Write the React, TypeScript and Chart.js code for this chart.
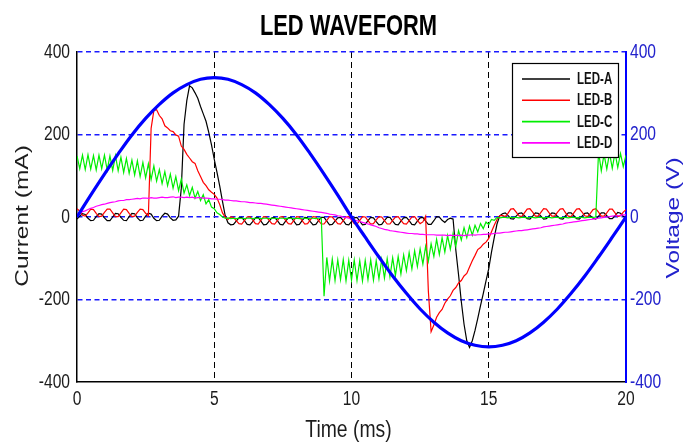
import React, { useEffect, useRef } from 'react';
import { Chart, registerables } from 'chart.js';

Chart.register(...registerables);

const TITLE = 'LED WAVEFORM';
const X_TITLE = 'Time (ms)';
const Y_LEFT_TITLE = 'Current (mA)';
const Y_RIGHT_TITLE = 'Voltage (V)';
const X_TICKS = [0, 5, 10, 15, 20];
const Y_TICKS = [-400, -200, 0, 200, 400];
const SERIES_LABELS = ['LED-A', 'LED-B', 'LED-C', 'LED-D'];
const SERIES_COLORS = ['#000000', '#ff0000', '#00ee00', '#ff00ff'];
const VOLTAGE_COLOR = '#0000ff';

// sampled every 0.1 ms, 0 .. 20 ms
const SAMPLE_STEP_MS = 0.1;
// sampled every 0.5 ms, 0 .. 20 ms
const VOLTAGE_STEP_MS = 0.5;

const LED_A = [
  -5, 2, 8, 6, -3, -9, -8, 1, 8, 7,
  -2, -9, -9, 0, 9, 8, -1, -8, -9, 1,
  9, 8, -2, -9, -8, 2, 9, 7, -3, -9,
  -8, 2, 9, 7, -2, -8, -7, 2, 70, 225,
  282, 318, 313, 301, 288, 268, 250, 232, 205, 175,
  140, 108, 75, 38, 3, -14, -19, -18, -10, -2,
  -1, -9, -18, -19, -11, -2, -1, -10, -19, -18,
  -10, -2, -1, -9, -18, -19, -10, -2, -1, -10,
  -19, -18, -9, -1, -2, -11, -19, -18, -9, -1,
  -1, -10, -19, -18, -10, -2, -1, -9, -18, -19,
  -11, -2, -1, -10, -19, -18, -9, -1, -2, -11,
  -19, -18, -9, -1, -1, -10, -18, -19, -10, -2,
  -1, -9, -18, -19, -10, -2, -1, -10, -18, -18,
  -9, 1, 0, -8, -13, -6, -3, -5, -80, -140,
  -205, -260, -300, -316, -300, -275, -246, -215, -186, -155,
  -125, -85, -50, -17, 3, 8, 10, 4, -4, -5,
  2, 9, 10, 3, -4, -5, 2, 10, 9, 2,
  -5, -4, 3, 10, 9, 2, -4, -5, 3, 10,
  10, 3, -4, -5, 2, 9, 10, 3, -3, -5,
  2, 10, 10, 3, -4, -4, 3, 11, 9, 2,
  -2,
];

const LED_B = [
  20, 14, 4, 2, 10, 19, 18, 9, 1, 2,
  11, 19, 19, 10, 1, 1, 10, 19, 18, 9,
  1, 2, 11, 19, 18, 9, 3, 215, 258, 260,
  246, 238, 221, 216, 209, 207, 199, 196, 172, 164,
  152, 143, 134, 130, 112, 98, 84, 76, 66, 60,
  55, 46, 30, 10, 0, -6, 0, -1, -9, -16,
  -17, -9, 0, 1, -7, -16, -17, -8, 1, 0,
  -8, -16, -17, -9, 0, 1, -8, -16, -17, -8,
  1, 0, -9, -17, -16, -7, 1, 0, -9, -17,
  -17, -8, 1, 0, -8, -16, -17, -9, 0, 1,
  -7, -16, -17, -8, 1, 0, -9, -17, -16, -7,
  1, 0, -9, -17, -17, -8, 0, 1, -8, -16,
  -17, -9, 0, 1, -8, -16, -12, 2, -180, -278,
  -262, -243, -232, -224, -209, -199, -191, -178, -171, -160,
  -154, -143, -137, -121, -106, -93, -79, -74, -66, -61,
  -52, -36, -20, -6, 3, 4, 1, 9, 19, 20,
  12, 3, 1, 10, 19, 20, 12, 2, 2, 11,
  20, 19, 10, 2, 2, 11, 19, 20, 10, 2,
  1, 10, 19, 20, 12, 3, 1, 9, 18, 20,
  12, 2, 2, 10, 19, 19, 10, 1, 3, 12,
  18,
];

const LED_C = [
  148, 117, 150, 115, 151, 116, 149, 114, 150, 117,
  150, 114, 148, 113, 149, 112, 145, 108, 142, 106,
  138, 102, 136, 98, 132, 95, 129, 91, 124, 87,
  115, 81, 110, 76, 104, 70, 98, 64, 92, 58,
  78, 52, 72, 46, 62, 40, 54, 32, 42, 24,
  20, 10, 6, 0, -3, -2, -4, -3, -4, -3,
  -3, -4, -3, -3, -4, -3, -3, -4, -3, -3,
  -4, -3, -3, -4, -3, -3, -4, -3, -3, -4,
  -3, -4, -3, -3, -4, -3, -3, -4, -3, -3,
  -192, -98, -155, -102, -154, -104, -152, -103, -155, -105,
  -153, -104, -154, -106, -155, -105, -152, -104, -153, -106,
  -150, -103, -148, -101, -145, -99, -142, -96, -138, -92,
  -130, -86, -126, -82, -120, -77, -114, -71, -107, -65,
  -96, -54, -91, -50, -85, -45, -78, -40, -71, -33,
  -56, -26, -50, -22, -44, -20, -36, -16, -28, -12,
  -18, -6, -8, -1, -2, -1, -1, -2, -1, -1,
  -1, -2, -1, -1, -2, -1, -1, -2, -1, -1,
  -2, -1, -1, -2, -1, -1, -2, -1, -1, -2,
  -1, -1, -2, -1, -1, -2, -1, -1, -1, 0,
  158, 112, 152, 116, 155, 118, 156, 120, 154, 122,
  150,
];

const LED_D = [
  6, 9, 13, 15, 18, 21, 23, 26, 28, 30,
  31, 33, 35, 36, 37, 39, 40, 40, 42, 42,
  43, 44, 45, 44, 46, 46, 45, 47, 46, 46,
  47, 48, 47, 47, 48, 49, 47, 48, 48, 47,
  48, 47, 48, 46, 47, 47, 46, 46, 45, 44,
  44, 43, 43, 42, 41, 41, 40, 39, 39, 38,
  37, 37, 36, 35, 35, 34, 33, 33, 32, 31,
  30, 29, 28, 27, 26, 25, 24, 23, 22, 21,
  20, 19, 18, 17, 16, 15, 14, 13, 12, 11,
  10, 9, 7, 6, 5, 3, 2, 0, -1, -3,
  -5, -7, -9, -11, -13, -15, -17, -19, -21, -23,
  -26, -28, -30, -31, -33, -34, -35, -36, -37, -38,
  -39, -40, -40, -41, -41, -42, -42, -43, -43, -43,
  -43, -44, -44, -44, -44, -45, -44, -45, -44, -45,
  -44, -45, -44, -44, -43, -44, -43, -43, -42, -42,
  -41, -41, -40, -39, -39, -38, -37, -37, -36, -35,
  -34, -33, -33, -32, -31, -30, -29, -28, -27, -26,
  -24, -23, -22, -21, -20, -19, -18, -17, -15, -14,
  -13, -12, -11, -10, -9, -8, -7, -6, -5, -4,
  -3, -2, -1, 0, 1, 2, 3, 3, 4, 5,
  5,
];

const VOLTAGE = [
  0, 53, 104, 153, 199, 239, 273, 301, 321, 334,
  338, 334, 321, 301, 273, 239, 199, 153, 104, 53,
  0, -49, -97, -143, -185, -223, -255, -281, -300, -311,
  -315, -311, -300, -281, -255, -223, -185, -143, -97, -49,
  0,
];

const TEXT_FONT = '"Liberation Sans", Arial, sans-serif';
const TICK_COLOR = '#1c1c1c';
const RIGHT_COLOR = '#2222cc';
const SQUASH = 0.78;

const toPoints = (vals: number[], step: number) =>
  vals.map((v, i) => ({ x: Math.round(i * step * 100) / 100, y: v }));

const decorPlugin = {
  id: 'decor',
  afterDraw(chart: any) {
    const { ctx, chartArea, scales } = chart;
    const text = (
      s: string, x: number, y: number, font: string, color: string,
      sx: number, rot: number, align: CanvasTextAlign, baseline: CanvasTextBaseline
    ) => {
      ctx.save();
      ctx.translate(x, y);
      ctx.scale(sx, 1);
      if (rot) ctx.rotate(rot);
      ctx.font = font;
      ctx.fillStyle = color;
      ctx.textAlign = align;
      ctx.textBaseline = baseline;
      ctx.fillText(s, 0, 0);
      ctx.restore();
    };
    const tickFont = `20px ${TEXT_FONT}`;
    // tick labels, placed with the library's scales
    scales.x.ticks.forEach((t: any) => {
      const px = scales.x.getPixelForValue(t.value);
      text(String(t.value), px, chartArea.bottom + 17, tickFont, TICK_COLOR, SQUASH, 0, 'center', 'middle');
    });
    scales.y.ticks.forEach((t: any) => {
      const py = scales.y.getPixelForValue(t.value);
      text(String(t.value), chartArea.left - 7, py, tickFont, TICK_COLOR, SQUASH, 0, 'right', 'middle');
    });
    scales.y2.ticks.forEach((t: any) => {
      const py = scales.y2.getPixelForValue(t.value);
      text(String(t.value), chartArea.right + 4, py, tickFont, RIGHT_COLOR, SQUASH, 0, 'left', 'middle');
    });

    const cx = (chartArea.left + chartArea.right) / 2 - 3;
    text(TITLE, cx, 35, `bold 30px ${TEXT_FONT}`, '#000', 0.73, 0, 'center', 'alphabetic');
    text(X_TITLE, cx, 436.5, `24.5px ${TEXT_FONT}`, TICK_COLOR, 0.79, 0, 'center', 'alphabetic');
    text(Y_LEFT_TITLE, 22.5, (chartArea.top + chartArea.bottom) / 2 - 1, `24.5px ${TEXT_FONT}`, TICK_COLOR, SQUASH, -Math.PI / 2, 'center', 'middle');
    text(Y_RIGHT_TITLE, 673.5, (chartArea.top + chartArea.bottom) / 2 + 1, `24.5px ${TEXT_FONT}`, RIGHT_COLOR, SQUASH, -Math.PI / 2, 'center', 'middle');

    // legend box
    const bx = chartArea.right - 114;
    const by = chartArea.top + 11;
    const bw = 106;
    const bh = 94;
    ctx.save();
    ctx.fillStyle = '#ffffff';
    ctx.fillRect(bx, by, bw, bh);
    ctx.strokeStyle = '#000';
    ctx.lineWidth = 1.2;
    ctx.strokeRect(bx + 0.5, by + 0.5, bw, bh);
    SERIES_LABELS.forEach((lab, i) => {
      const ly = by + 16 + i * 21.3;
      ctx.strokeStyle = SERIES_COLORS[i];
      ctx.lineWidth = 1.6;
      ctx.beginPath();
      ctx.moveTo(bx + 10, ly);
      ctx.lineTo(bx + 58, ly);
      ctx.stroke();
      ctx.save();
      ctx.translate(bx + 65, ly + 0.5);
      ctx.scale(0.72, 1);
      ctx.font = `bold 16px ${TEXT_FONT}`;
      ctx.fillStyle = '#111';
      ctx.textAlign = 'left';
      ctx.textBaseline = 'middle';
      ctx.fillText(lab, 0, 0);
      ctx.restore();
    });
    ctx.restore();
  },
};

export default function App() {
  const ref = useRef<HTMLCanvasElement | null>(null);

  useEffect(() => {
    if (!ref.current) return;
    const ledSets = [LED_A, LED_B, LED_C, LED_D].map((vals, i) => ({
      label: SERIES_LABELS[i],
      data: toPoints(vals, SAMPLE_STEP_MS),
      borderColor: SERIES_COLORS[i],
      backgroundColor: SERIES_COLORS[i],
      borderWidth: 1.2,
      pointRadius: 0,
      tension: 0,
      yAxisID: 'y',
      order: 4 - i,
    }));
    const chart = new Chart(ref.current, {
      type: 'line',
      data: {
        datasets: [
          {
            label: 'Voltage',
            data: toPoints(VOLTAGE, VOLTAGE_STEP_MS),
            borderColor: VOLTAGE_COLOR,
            backgroundColor: VOLTAGE_COLOR,
            borderWidth: 3.2,
            pointRadius: 0,
            tension: 0.4,
            yAxisID: 'y2',
            order: 0,
          },
          ...ledSets,
        ],
      },
      options: {
        responsive: false,
        animation: false,
        events: [],
        layout: { padding: { top: 52, left: 0, right: 0, bottom: 0 } },
        plugins: {
          legend: { display: false },
          title: { display: false },
          tooltip: { enabled: false },
        },
        scales: {
          x: {
            type: 'linear',
            min: X_TICKS[0],
            max: X_TICKS[X_TICKS.length - 1],
            afterFit: (s: any) => { s.height = 60; },
            ticks: {
              display: false,
              stepSize: X_TICKS[1] - X_TICKS[0],
              maxRotation: 0,
            },
            grid: {
              drawTicks: false,
              lineWidth: 1,
              color: (c: any) =>
                c.tick && (c.tick.value === X_TICKS[0] || c.tick.value === X_TICKS[X_TICKS.length - 1])
                  ? 'rgba(0,0,0,0)'
                  : '#000000',
            },
            border: { display: true, color: '#000', width: 1.5, dash: [6, 4] },
          },
          y: {
            type: 'linear',
            position: 'left',
            min: Y_TICKS[0],
            max: Y_TICKS[Y_TICKS.length - 1],
            afterFit: (s: any) => { s.width = 77; },
            ticks: {
              display: false,
              stepSize: Y_TICKS[1] - Y_TICKS[0],
            },
            grid: {
              drawTicks: false,
              lineWidth: 1.5,
              color: (c: any) =>
                c.tick && c.tick.value === Y_TICKS[0] ? 'rgba(0,0,0,0)' : '#1a1aff',
            },
            border: { display: true, color: '#000', width: 1.5, dash: [5, 3.5] },
          },
          y2: {
            type: 'linear',
            position: 'right',
            min: Y_TICKS[0],
            max: Y_TICKS[Y_TICKS.length - 1],
            afterFit: (s: any) => { s.width = 59; },
            ticks: {
              display: false,
              stepSize: Y_TICKS[1] - Y_TICKS[0],
            },
            grid: { drawOnChartArea: false, drawTicks: false },
            border: { display: true, color: '#0000ff', width: 2 },
          },
        },
      },
      plugins: [decorPlugin],
    } as any);
    return () => chart.destroy();
  }, []);

  return (
    <div style={{ position: 'absolute', left: 0, top: 0, width: 685, height: 442, background: '#fff' }}>
      <canvas ref={ref} width={685} height={442} style={{ width: 685, height: 442, display: 'block' }} />
    </div>
  );
}
